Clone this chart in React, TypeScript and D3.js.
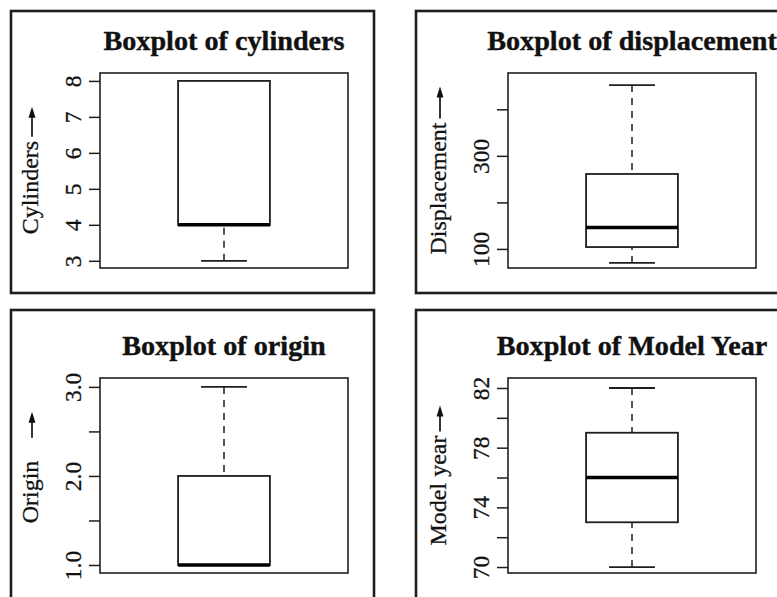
import React, { useEffect, useRef } from "react";
import * as d3 from "d3";

// one boxplot per panel
const titles = [
  "Boxplot of cylinders",
  "Boxplot of displacement",
  "Boxplot of origin",
  "Boxplot of Model Year",
];
const axisLabels = ["Cylinders", "Displacement", "Origin", "Model year"];
const mins = [3, 70, 1, 70];
const lowerQuartiles = [4, 104, 1, 73];
const medians = [4, 146, 1, 76];
const upperQuartiles = [8, 261, 2, 79];
const maxs = [8, 452, 3, 82];
const yDomains = [
  [2.8, 8.22],
  [59, 478],
  [0.91, 3.1],
  [69.6, 82.67],
];
const tickValues = [
  [3, 4, 5, 6, 7, 8],
  [100, 200, 300, 400],
  [1, 1.5, 2, 2.5, 3],
  [70, 72, 74, 76, 78, 80, 82],
];
const tickLabels = [
  ["3", "4", "5", "6", "7", "8"],
  ["100", "", "300", ""],
  ["1.0", "", "2.0", "", "3.0"],
  ["70", "", "74", "", "78", "", "82"],
];

const FONT = "'Liberation Serif', 'Times New Roman', serif";
const INK = "#1e1e1e";
// label / arrow tweaks per panel
const labelGaps = [4, 4, 23, 4];
const arrowLens = [30, 32, 26, 26];
const labelShifts = [0, 0, -8, 0];

const App = () => {
  const svgRef = useRef<SVGSVGElement>(null);

  useEffect(() => {
    const svg = d3.select(svgRef.current);
    svg.selectAll("*").remove();

    titles.forEach((title, i) => {
      const col = i % 2;
      const row = Math.floor(i / 2);
      const left = col ? 508 : 100;
      const right = left + 248;
      const top = row ? 378 : 73;
      const bottom = top + 195;

      const g = svg.append("g");

      // panel border
      g.append("rect")
        .attr("x", col ? 416 : 11)
        .attr("y", row ? 310 : 11)
        .attr("width", 363)
        .attr("height", row ? 300 : 282)
        .attr("fill", "none")
        .attr("stroke", INK)
        .attr("stroke-width", 2.6);

      const y = d3.scaleLinear().domain(yDomains[i]).range([bottom, top]);
      const x = d3.scaleBand().domain([title]).range([left, right]).paddingOuter(0.85);
      const bx = x(title) as number;
      const bw = x.bandwidth();
      const cx = bx + bw / 2;

      // axis
      const axis = g.append("g")
        .attr("transform", `translate(${left},0)`)
        .call(
          d3.axisLeft(y)
            .tickValues(tickValues[i])
            .tickFormat((_d, k) => tickLabels[i][k])
            .tickSize(11)
            .tickSizeOuter(0)
        )
        .attr("font-size", 23.5)
        .attr("font-family", FONT);
      axis.select(".domain").remove();
      axis.selectAll(".tick line").attr("stroke", INK).attr("stroke-width", 1.5);
      axis.selectAll(".tick text")
        .attr("fill", "#111")
        .attr("stroke", "#111")
        .attr("stroke-width", 0.3)
        .attr("x", 0)
        .attr("dy", 0)
        .attr("y", -19)
        .attr("text-anchor", "middle")
        .attr("transform", "rotate(-90)");

      // whiskers
      const whiskers = [
        [maxs[i], upperQuartiles[i]],
        [mins[i], lowerQuartiles[i]],
      ];
      whiskers.forEach(([a, b]) => {
        if (a === b) return;
        g.append("line")
          .attr("x1", cx).attr("x2", cx)
          .attr("y1", y(a)).attr("y2", y(b))
          .attr("stroke", INK)
          .attr("stroke-width", 1.5)
          .attr("stroke-dasharray", "7,6");
      });
      [mins[i], maxs[i]].forEach(v => {
        g.append("line")
          .attr("x1", cx - bw / 4).attr("x2", cx + bw / 4)
          .attr("y1", y(v)).attr("y2", y(v))
          .attr("stroke", INK)
          .attr("stroke-width", 1.8);
      });

      // box
      g.append("rect")
        .attr("x", bx)
        .attr("y", y(upperQuartiles[i]))
        .attr("width", bw)
        .attr("height", y(lowerQuartiles[i]) - y(upperQuartiles[i]))
        .attr("fill", "white")
        .attr("stroke", INK)
        .attr("stroke-width", 1.8);
      g.append("line")
        .attr("x1", bx).attr("x2", bx + bw)
        .attr("y1", y(medians[i])).attr("y2", y(medians[i]))
        .attr("stroke", "#000")
        .attr("stroke-width", 3.5);

      // plot frame
      g.append("rect")
        .attr("x", left)
        .attr("y", top)
        .attr("width", right - left)
        .attr("height", bottom - top)
        .attr("fill", "none")
        .attr("stroke", INK)
        .attr("stroke-width", 1.6);

      // title
      g.append("text")
        .attr("x", (left + right) / 2)
        .attr("y", top - 23)
        .attr("text-anchor", "middle")
        .attr("font-family", FONT)
        .attr("font-weight", "bold")
        .attr("font-size", 28.2)
        .attr("fill", "#111")
        .attr("stroke", "#111")
        .attr("stroke-width", 0.4)
        .text(title);

      // y label with arrow
      const lx = left - 62;
      const label = g.append("text")
        .attr("font-family", FONT)
        .attr("font-size", 24)
        .attr("fill", "#111")
        .attr("stroke", "#111")
        .attr("stroke-width", 0.3)
        .text(axisLabels[i]);
      const len = (label.node() as SVGTextElement).getComputedTextLength();
      const arrowLen = arrowLens[i];
      const total = len + labelGaps[i] + arrowLen;
      const startY = (top + bottom) / 2 + total / 2 + labelShifts[i];
      label.attr("transform", `translate(${lx},${startY}) rotate(-90)`);
      const ax = lx - 6;
      const aBase = startY - len - labelGaps[i];
      const aTip = aBase - arrowLen;
      g.append("line")
        .attr("x1", ax).attr("x2", ax)
        .attr("y1", aBase).attr("y2", aTip + 8)
        .attr("stroke", "#111")
        .attr("stroke-width", 1.7);
      g.append("path")
        .attr("d", `M${ax},${aTip} L${ax - 3.5},${aTip + 11} L${ax + 3.5},${aTip + 11} Z`)
        .attr("fill", "#111");
    });
  }, []);

  return (
    <svg
      ref={svgRef}
      width={777}
      height={597}
      style={{ position: "absolute", left: 0, top: 0, background: "#fff" }}
    />
  );
};

export default App;
